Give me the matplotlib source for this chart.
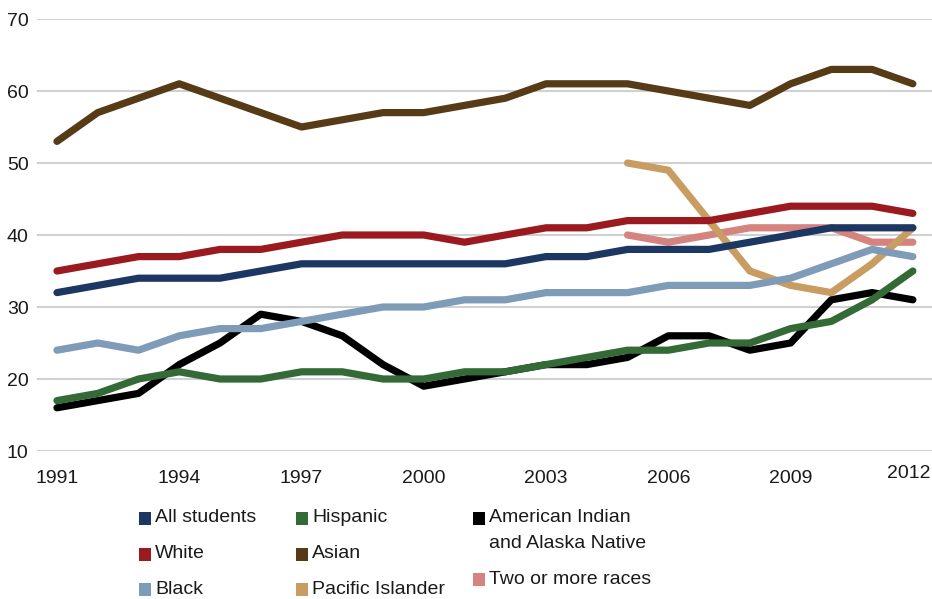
import numpy as np
import matplotlib.pyplot as plt
import matplotlib.transforms as mtransforms
from matplotlib.patches import Rectangle

plt.rcParams['font.family'] = ['Liberation Sans Narrow', 'Liberation Sans', 'DejaVu Sans']

years = np.arange(1991, 2013)
nan = np.nan

all_students = [32, 33, 34, 34, 34, 35, 36, 36, 36, 36, 36, 36, 37, 37, 38, 38, 38, 39, 40, 41, 41, 41]
white = [35, 36, 37, 37, 38, 38, 39, 40, 40, 40, 39, 40, 41, 41, 42, 42, 42, 43, 44, 44, 44, 43]
black = [24, 25, 24, 26, 27, 27, 28, 29, 30, 30, 31, 31, 32, 32, 32, 33, 33, 33, 34, 36, 38, 37]
hispanic = [17, 18, 20, 21, 20, 20, 21, 21, 20, 20, 21, 21, 22, 23, 24, 24, 25, 25, 27, 28, 31, 35]
asian = [53, 57, 59, 61, 59, 57, 55, 56, 57, 57, 58, 59, 61, 61, 61, 60, 59, 58, 61, 63, 63, 61]
pacific = [nan] * 14 + [50, 49, 42, 35, 33, 32, 36, 41]
am_indian = [16, 17, 18, 22, 25, 29, 28, 26, 22, 19, 20, 21, 22, 22, 23, 26, 26, 24, 25, 31, 32, 31]
two_more = [nan] * 14 + [40, 39, 40, 41, 41, 41, 39, 39]

names = ['All students', 'White', 'Black', 'Hispanic', 'Asian', 'Pacific Islander',
         'American Indian\nand Alaska Native', 'Two or more races']
series = [all_students, white, black, hispanic, asian, pacific, am_indian, two_more]
colors = ['#1d3763', '#9a1a20', '#7e9bb8', '#346a36', '#573b16', '#c99c62', '#000000', '#d4837f']

W, H = 932, 599
fig = plt.figure(figsize=(W / 100, H / 100), dpi=100)
ax = fig.add_axes([37 / W, 1 - 451 / H, 895 / W, 432 / H])

# first series drawn on top
n = len(series)
for i, (vals, c) in enumerate(zip(series, colors)):
    ax.plot(years, vals, color=c, lw=5.2, solid_capstyle='round', zorder=10 + n - i, clip_on=False)

ax.set_xlim(1990.51, 2012.47)
ax.set_ylim(10, 70)
ax.set_yticks(range(10, 71, 10))
ax.set_xticks(range(1991, 2013, 3))
ax.grid(axis='y', color='#d0d0d0', lw=1.5)
ax.set_axisbelow(True)
for s in ax.spines.values():
    s.set_visible(False)
ax.tick_params(axis='both', length=0, labelsize=14, colors='#1a1a1a')
ax.tick_params(axis='x', pad=14)
ax.tick_params(axis='y', pad=6)

# last year label sits a bit left and higher, as in the original
last = ax.get_xticklabels()[-1]
last.set_transform(last.get_transform() + mtransforms.ScaledTranslation(-4 / 100, 5 / 100, fig.dpi_scale_trans))

# legend
col_x = [139, 296, 473]
pos = [(0, 518), (0, 554), (0, 589), (1, 518), (1, 554), (1, 589), (2, 518), (2, 579)]
for name, c, (col, y) in zip(names, colors, pos):
    x = col_x[col]
    fig.add_artist(Rectangle((x / W, 1 - (y + 6.5) / H), 12 / W, 13 / H,
                             transform=fig.transFigure, color=c, lw=0))
    for k, line in enumerate(name.split('\n')):
        fig.text((x + 16) / W, 1 - (y + 25 * k) / H, line, fontsize=14,
                 va='center', ha='left', color='#1a1a1a')

fig.savefig('out.png', dpi=100)
